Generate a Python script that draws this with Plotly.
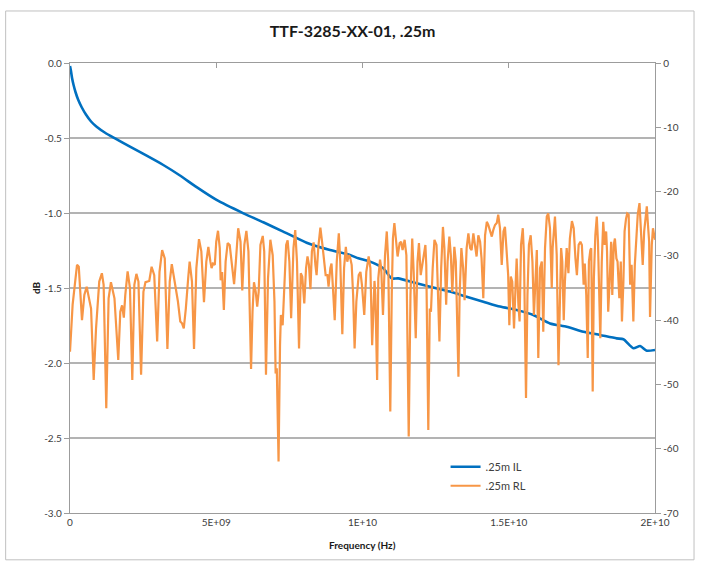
import plotly.graph_objects as go
import numpy as np

# ---------------- data ----------------
il_freq_ghz = [0.00, 0.03, 0.07, 0.12, 0.19, 0.28, 0.40, 0.55, 0.72, 0.91, 1.20, 1.54,
               2.05, 2.62, 3.19, 3.76, 4.33, 5.01, 5.93, 6.61, 7.29, 8.09, 8.89, 9.57,
               9.86, 10.26, 10.71, 11.00, 11.22, 11.85, 12.31, 12.99, 13.56, 14.13,
               14.70, 15.27, 15.84, 16.41, 16.98, 17.55, 18.12, 18.69, 18.92, 19.26,
               19.49, 19.72, 20.00]
il_db = [-0.020, -0.050, -0.100, -0.145, -0.195, -0.245, -0.295, -0.345, -0.390, -0.425,
         -0.465, -0.503, -0.558, -0.618, -0.680, -0.750, -0.828, -0.913, -1.002, -1.062,
         -1.124, -1.198, -1.247, -1.280, -1.302, -1.324, -1.369, -1.436, -1.436, -1.469,
         -1.491, -1.524, -1.558, -1.591, -1.624, -1.647, -1.680, -1.736, -1.758, -1.791,
         -1.813, -1.836, -1.842, -1.902, -1.887, -1.918, -1.913]

rl_freq_ghz = [
    0.00, 0.09, 0.24, 0.30, 0.41, 0.49, 0.57, 0.66, 0.72, 0.81, 0.89, 1.00, 1.09, 1.15,
    1.24, 1.32, 1.40, 1.52, 1.57, 1.65, 1.72, 1.78, 1.84, 1.89, 1.97, 2.05, 2.13, 2.20,
    2.27, 2.34, 2.43, 2.51, 2.58, 2.71, 2.79, 2.88, 2.98, 3.06, 3.15, 3.24,
    3.33, 3.41, 3.48, 3.56, 3.61, 3.69, 3.77, 3.83, 3.89, 3.96, 4.04, 4.09, 4.17, 4.24,
    4.32, 4.41, 4.49, 4.58, 4.66, 4.73, 4.80, 4.84, 4.89, 4.95, 5.00, 5.06, 5.12, 5.15,
    5.20, 5.26, 5.32, 5.39, 5.46, 5.53, 5.61, 5.67, 5.75, 5.83, 5.89, 5.96, 6.03, 6.10,
    6.19, 6.24, 6.29, 6.35, 6.40, 6.45, 6.51,
    6.59, 6.64, 6.70, 6.77, 6.85, 6.93, 6.99, 7.03, 7.07, 7.13, 7.18, 7.21, 7.27, 7.32,
    7.39, 7.44, 7.50, 7.56, 7.64, 7.70, 7.76, 7.83, 7.89, 7.94, 8.01, 8.07, 8.12, 8.17,
    8.22, 8.27, 8.33, 8.39, 8.43, 8.49, 8.56, 8.63, 8.69, 8.74, 8.80, 8.84, 8.90, 8.94,
    8.99, 9.05, 9.12, 9.19, 9.24, 9.31, 9.37, 9.43, 9.48, 9.53, 9.57, 9.63, 9.68, 9.73,
    9.79,
    9.87, 9.93, 9.98, 10.06, 10.13, 10.21, 10.27, 10.33, 10.41, 10.44, 10.50, 10.54,
    10.60, 10.64, 10.70, 10.77, 10.83, 10.88, 10.95, 11.00, 11.04, 11.09, 11.15, 11.20,
    11.27, 11.32, 11.37, 11.44, 11.50, 11.58, 11.64, 11.70, 11.75, 11.82, 11.88, 11.93,
    11.99, 12.05, 12.09, 12.15, 12.18, 12.25, 12.30, 12.34, 12.40, 12.46, 12.53, 12.57,
    12.63, 12.69, 12.75, 12.80, 12.86, 12.91, 12.97, 13.02, 13.07, 13.14,
    13.19, 13.24, 13.28, 13.32, 13.38, 13.44, 13.49, 13.56, 13.62, 13.68, 13.73, 13.79,
    13.85, 13.90, 13.96, 14.02, 14.07, 14.13, 14.19, 14.25, 14.30, 14.36, 14.42, 14.47,
    14.53, 14.59, 14.64, 14.70, 14.76, 14.82, 14.87, 14.92, 14.98, 15.02, 15.07, 15.12,
    15.18, 15.23, 15.27, 15.33, 15.37, 15.42, 15.48, 15.52, 15.59, 15.64, 15.69, 15.75,
    15.81, 15.86, 15.92, 15.96, 16.01, 16.07, 16.13, 16.18, 16.24, 16.30, 16.35, 16.41,
    16.47,
    16.50, 16.58, 16.64, 16.70, 16.75, 16.79, 16.83, 16.88, 16.92, 16.98, 17.04, 17.09,
    17.16, 17.22, 17.28, 17.33, 17.39, 17.45, 17.50, 17.56, 17.60, 17.65, 17.70, 17.74,
    17.79, 17.82, 17.87, 17.91, 17.96, 18.01, 18.05, 18.10, 18.13, 18.18, 18.23, 18.28,
    18.33, 18.36, 18.40, 18.45, 18.50, 18.54, 18.59, 18.63, 18.68, 18.72, 18.78, 18.83,
    18.87, 18.92, 18.96, 19.01, 19.05, 19.10, 19.15, 19.20, 19.26, 19.31, 19.36, 19.41,
    19.47, 19.52, 19.58, 19.63, 19.67, 19.72, 19.76, 19.80, 19.83, 19.89, 19.93, 20.00]

rl_db = [
    -44.9, -37.6, -31.4, -31.7, -40.0, -36.1, -34.8, -36.6, -38.2, -49.3, -41.3, -34.0,
    -32.7, -34.5, -53.7, -36.6, -34.1, -36.6, -39.7, -46.2, -38.7, -37.7, -39.6, -36.1,
    -32.4, -35.0, -49.3, -34.5, -32.8, -34.0, -48.5, -35.6, -34.1, -33.9, -31.7, -33.0,
    -43.3, -32.5, -29.1, -30.4,
    -44.5, -34.0, -31.3, -33.5, -35.3, -37.1, -40.2, -40.5, -41.3, -38.2, -33.5, -30.9,
    -34.0, -44.5, -31.9, -27.4, -29.3, -37.2, -30.9, -28.6, -30.9, -31.9, -31.2, -31.4,
    -27.8, -26.1, -28.8, -33.8, -32.5, -38.4, -30.9, -28.0, -28.3, -30.9, -34.4, -30.9,
    -25.7, -27.8, -35.4, -28.3, -26.1, -29.3, -47.6, -38.7, -34.1, -35.6, -37.9, -35.6,
    -28.3,
    -26.9, -29.3, -48.5, -33.5, -27.5, -29.9, -37.1, -48.3, -47.5, -62.0, -43.9, -39.2,
    -40.8, -36.1, -28.3, -27.6, -30.9, -39.7, -28.8, -26.0, -30.9, -44.4, -32.7, -33.2,
    -37.4, -31.9, -30.1, -31.4, -35.2, -29.3, -27.9, -31.4, -33.0, -28.6, -25.6, -28.3,
    -31.4, -33.0, -33.0, -34.8, -31.9, -31.2, -35.0, -40.0, -30.9, -26.5, -30.9, -42.2,
    -31.9, -28.6, -30.9, -29.9, -30.1, -31.4, -36.1, -44.4, -37.1,
    -33.0, -32.5, -34.5, -39.2, -32.5, -30.1, -31.9, -43.9, -33.9, -36.1, -49.3, -33.5,
    -30.6, -31.9, -39.2, -29.9, -26.2, -30.9, -54.2, -36.1, -27.3, -24.9, -27.3, -30.1,
    -28.0, -27.8, -29.1, -27.5, -29.9, -58.1, -36.1, -27.3, -32.5, -42.8, -30.9, -28.0,
    -33.0, -31.4, -30.6, -28.3, -31.4, -57.1, -38.2, -38.7, -31.9, -27.5, -28.3, -36.1,
    -43.3, -31.9, -25.5, -28.8, -37.6, -30.9, -27.0, -29.9, -35.6, -28.6,
    -30.9, -40.8, -48.8, -36.1, -28.8, -31.9, -36.9, -28.8, -26.5, -28.8, -29.1, -26.5,
    -28.8, -30.1, -26.8, -27.8, -30.4, -36.6, -26.8, -24.7, -25.2, -26.2, -27.0, -26.0,
    -25.2, -24.9, -23.6, -25.7, -31.4, -26.2, -25.5, -28.8, -33.0, -40.8, -33.2, -34.0,
    -41.3, -35.0, -30.4, -37.6, -40.2, -28.3, -25.7, -29.9, -52.1, -36.1, -28.3, -26.8,
    -30.9, -39.2, -32.5, -29.1, -45.9, -31.9, -30.9, -41.8, -28.8, -23.9, -23.4, -25.7,
    -35.0,
    -28.8, -23.9, -29.9, -47.0, -33.5, -28.8, -30.9, -40.0, -34.0, -28.8, -32.7, -27.3,
    -24.6, -25.7, -30.4, -33.0, -28.3, -27.8, -28.3, -34.5, -31.2, -36.1, -45.9, -30.9,
    -29.1, -28.8, -51.1, -33.5, -26.8, -23.9, -27.8, -36.1, -42.8, -30.9, -24.7, -28.3,
    -26.2, -29.3, -38.7, -34.0, -27.8, -36.1, -28.3, -27.3, -30.4, -30.9, -36.6, -30.9,
    -40.2, -34.0, -26.2, -24.2, -23.4, -23.6, -34.5, -31.4, -40.2, -31.4, -26.2, -23.6,
    -21.8, -25.7, -31.4, -26.2, -24.2, -22.3, -25.2, -27.8, -39.5, -28.3, -25.7, -27.5]

series_names = [".25m IL", ".25m RL"]
title_text = "TTF-3285-XX-01, .25m"
x_title = "Frequency (Hz)"
y_title = "dB"
x_tick_vals = [0, 5e9, 1e10, 1.5e10, 2e10]
x_tick_text = ["0", "5E+09", "1E+10", "1.5E+10", "2E+10"]
y_left_vals = [0, -0.5, -1.0, -1.5, -2.0, -2.5, -3.0]
y_left_text = ["0.0", "-0.5", "-1.0", "-1.5", "-2.0", "-2.5", "-3.0"]
y_right_vals = [0, -10, -20, -30, -40, -50, -60, -70]
y_right_text = ["0", "-10", "-20", "-30", "-40", "-50", "-60", "-70"]

# ---------------- figure ----------------
FONT = "Lato, 'Open Sans', sans-serif"
GRID = "#b3b3b3"
AXIS = "#9c9c9c"
TXT = "#404040"

il_hz = np.array(il_freq_ghz) * 1e9
rl_hz = np.array(rl_freq_ghz) * 1e9

fig = go.Figure()
fig.add_trace(go.Scatter(x=il_hz, y=il_db, mode="lines", name=series_names[0],
                         line=dict(color="#0070C0", width=2.6, shape="spline",
                                   smoothing=0.6), yaxis="y"))
fig.add_trace(go.Scatter(x=rl_hz, y=rl_db, mode="lines", name=series_names[1],
                         line=dict(color="#F79646", width=2.2), yaxis="y2"))
# empty trace to carry the top tick-mark axis
fig.add_trace(go.Scatter(x=[], y=[], xaxis="x2", yaxis="y", showlegend=False,
                         hoverinfo="skip"))

fig.update_layout(
    width=701, height=564,
    margin=dict(l=70, r=46, t=63, b=51),
    paper_bgcolor="white", plot_bgcolor="white",
    font=dict(family=FONT, size=10, color=TXT),
    title=dict(text=title_text, x=0.503, xanchor="center", y=0.945, yanchor="middle",
               font=dict(family=FONT, size=16, color="#1a1a1a", weight="bold")),
    showlegend=True,
    legend=dict(x=0.642, y=0.135, xanchor="left", yanchor="top",
                bgcolor="rgba(0,0,0,0)", font=dict(family=FONT, size=11, color=TXT),
                itemwidth=30, tracegroupgap=0),
    xaxis=dict(range=[0, 2e10], tickvals=x_tick_vals, ticktext=x_tick_text,
               showgrid=False, zeroline=False, showline=True, linecolor=AXIS,
               linewidth=1.3, ticks="", tickfont=dict(size=10, color=TXT)),
    xaxis2=dict(range=[0, 2e10], overlaying="x", side="top", anchor="y",
                tickvals=x_tick_vals, showticklabels=False, ticks="inside",
                ticklen=5, tickcolor=AXIS, showgrid=False, zeroline=False,
                showline=True, linecolor=AXIS, linewidth=1.3),
    yaxis=dict(range=[-3.0, 0.0], tickvals=y_left_vals, ticktext=y_left_text,
               showgrid=True, gridcolor=GRID, gridwidth=1.5, zeroline=False,
               showline=True, linecolor=AXIS, linewidth=1.3, ticks="outside",
               ticklen=5, tickcolor=AXIS, tickfont=dict(size=10, color=TXT)),
    yaxis2=dict(range=[-70, 0], tickvals=y_right_vals, ticktext=y_right_text,
                overlaying="y", side="right", anchor="x", showgrid=False,
                zeroline=False, showline=True, linecolor=AXIS, linewidth=1.3,
                ticks="outside", ticklen=5, tickcolor=AXIS,
                tickfont=dict(size=10, color=TXT)),
    annotations=[
        dict(text=y_title, xref="paper", yref="paper", x=-0.058, y=0.5,
             textangle=-90, showarrow=False, xanchor="center", yanchor="middle",
             font=dict(family=FONT, size=10, color="#1a1a1a", weight="bold")),
        dict(text=x_title, xref="paper", yref="paper", x=0.5, y=-0.071,
             showarrow=False, xanchor="center", yanchor="middle",
             font=dict(family=FONT, size=10, color="#1a1a1a", weight="bold")),
    ],
    shapes=[dict(type="rect", xref="paper", yref="paper",
                 x0=-0.110, x1=1.0667, y0=-0.104, y1=1.1156,
                 line=dict(color="#c0c0c0", width=1), fillcolor="rgba(0,0,0,0)",
                 layer="below")],
)

fig.write_html("out.html",
               config={"displayModeBar": False},
               post_script="document.body.style.margin='0px';")
